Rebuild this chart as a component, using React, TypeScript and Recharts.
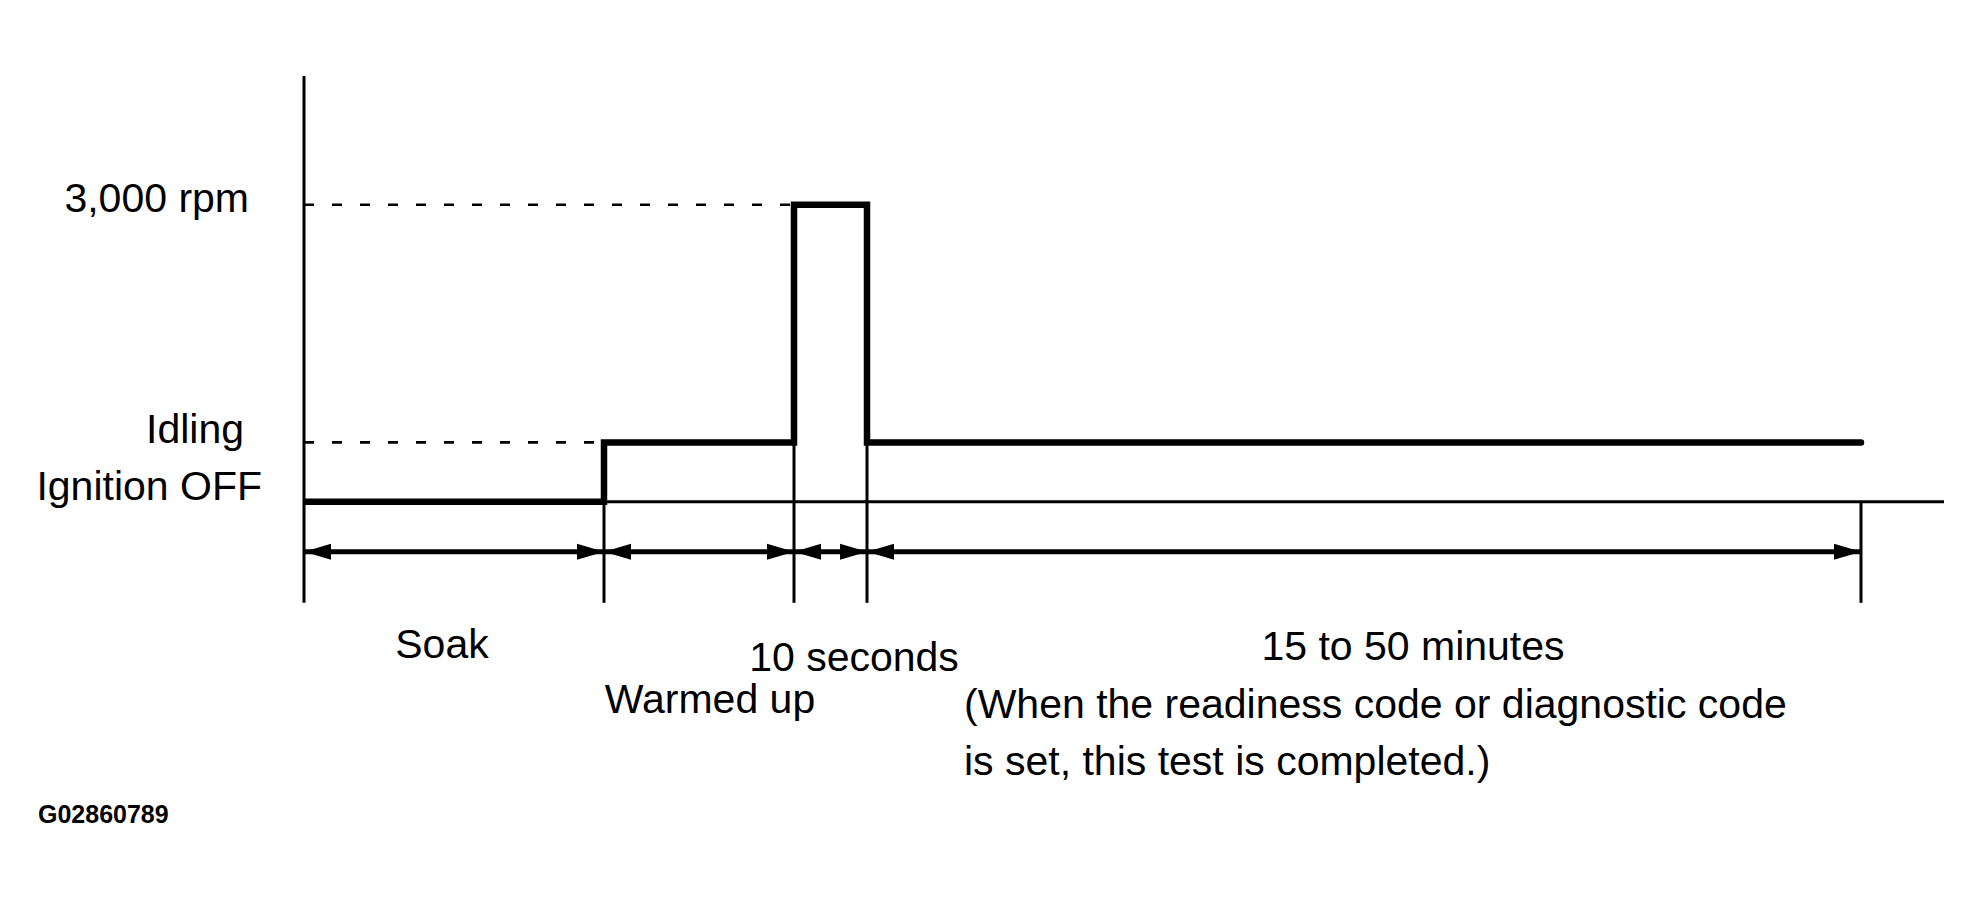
import React from 'react';
import {
  ComposedChart,
  Line,
  Scatter,
  XAxis,
  YAxis,
  ReferenceLine,
} from 'recharts';

// ---- data ----
// phase boundaries (schematic time units)
const phaseTimes = [0, 30, 49, 56.3, 155.7];
// step profile of engine speed
const stepTimes = [0, 30, 30, 49, 49, 56.3, 56.3, 155.7];
const stepRpm = [0, 0, 600, 600, 3000, 3000, 600, 600];
// y levels and their labels
const levelValues = [0, 600, 3000];
const levelLabels = ['Ignition OFF', 'Idling', '3,000 rpm'];
// phase annotation texts
const phaseTexts = [
  'Soak',
  'Warmed up',
  '10 seconds',
  '15 to 50 minutes',
  '(When the readiness code or diagnostic code',
  'is set, this test is completed.)',
];
const phaseTextX = [13.8, 40.6, 55, 110.9, 66, 66];
const phaseTextY = [-1578, -2133, -1709, -1598, -2183, -2759];
const phaseTextAnchor = ['middle', 'middle', 'middle', 'middle', 'start', 'start'];
const figureId = 'G02860789';

// ---- derived tables ----
const stepData = stepTimes.map((t, i) => ({ x: t, y: stepRpm[i] }));
const arrowRowY = -505;
const lineBottomY = -1020;
const arrowData: { x: number; y: number; dir: string }[] = [];
phaseTimes.forEach((t, i) => {
  if (i > 0) arrowData.push({ x: t, y: arrowRowY, dir: 'right' });
  if (i < phaseTimes.length - 1) arrowData.push({ x: t, y: arrowRowY, dir: 'left' });
});
const textData = phaseTexts.map((s, i) => ({
  x: phaseTextX[i],
  y: phaseTextY[i],
  text: s,
  anchor: phaseTextAnchor[i],
}));

const FONT = '"Liberation Sans", Arial, Helvetica, sans-serif';
const tickOffsets: Record<number, { dx: number; dy: number }> = {
  0: { dx: -42, dy: -2 },
  600: { dx: -60, dy: 1 },
  3000: { dx: -55, dy: 7 },
};

const LevelTick = (props: any) => {
  const { x, y, payload } = props;
  const v = payload.value as number;
  const idx = levelValues.indexOf(v);
  const off = tickOffsets[v] || { dx: 0, dy: 0 };
  return (
    <text
      x={x + off.dx}
      y={y + off.dy}
      textAnchor="end"
      fontFamily={FONT}
      fontSize={41}
      fill="#000"
    >
      {idx >= 0 ? levelLabels[idx] : ''}
    </text>
  );
};

const ArrowHead = (props: any) => {
  const { cx, cy, payload } = props;
  if (cx == null || cy == null) return null;
  const L = 27;
  const H = 8;
  const pts =
    payload.dir === 'right'
      ? `${cx},${cy} ${cx - L},${cy - H} ${cx - L},${cy + H}`
      : `${cx},${cy} ${cx + L},${cy - H} ${cx + L},${cy + H}`;
  return <polygon points={pts} fill="#000" />;
};

const NoteText = (props: any) => {
  const { cx, cy, payload } = props;
  if (cx == null || cy == null) return null;
  return (
    <text
      x={cx}
      y={cy}
      textAnchor={payload.anchor}
      fontFamily={FONT}
      fontSize={41}
      fill="#000"
    >
      {payload.text}
    </text>
  );
};

const W = 1966;
const H = 880;

export default function App() {
  const [t0, t1, t2, t3, t4] = phaseTimes;
  return (
    <div style={{ position: 'relative', width: W, height: H, background: '#fff' }}>
      <ComposedChart
        width={W}
        height={H}
        margin={{ top: 68, right: 30, bottom: 0, left: 0 }}
      >
        <XAxis
          type="number"
          dataKey="x"
          domain={[0, 164]}
          allowDataOverflow
          hide
        />
        <YAxis
          type="number"
          domain={[-3900, 4300]}
          allowDataOverflow
          ticks={levelValues}
          interval={0}
          axisLine={false}
          tickLine={false}
          tickSize={0}
          tickMargin={0}
          width={296}
          tick={<LevelTick />}
        />
        {/* vertical axis */}
        <ReferenceLine
          segment={[{ x: 0, y: lineBottomY }, { x: 0, y: 4300 }]}
          stroke="#000"
          strokeWidth={3}
          ifOverflow="visible"
        />
        {/* ignition-off baseline */}
        <ReferenceLine
          segment={[{ x: 0, y: 0 }, { x: 164, y: 0 }]}
          stroke="#000"
          strokeWidth={3}
          ifOverflow="visible"
        />
        {/* dashed level guides */}
        <ReferenceLine
          segment={[{ x: 0, y: 3000 }, { x: t2, y: 3000 }]}
          stroke="#000"
          strokeWidth={2.7}
          strokeDasharray="10 18"
          ifOverflow="visible"
        />
        <ReferenceLine
          segment={[{ x: 0, y: 600 }, { x: t1, y: 600 }]}
          stroke="#000"
          strokeWidth={2.7}
          strokeDasharray="10 18"
          ifOverflow="visible"
        />
        {/* phase boundary lines */}
        <ReferenceLine
          segment={[{ x: t1, y: 0 }, { x: t1, y: lineBottomY }]}
          stroke="#000"
          strokeWidth={3}
          ifOverflow="visible"
        />
        <ReferenceLine
          segment={[{ x: t2, y: 600 }, { x: t2, y: lineBottomY }]}
          stroke="#000"
          strokeWidth={3}
          ifOverflow="visible"
        />
        <ReferenceLine
          segment={[{ x: t3, y: 600 }, { x: t3, y: lineBottomY }]}
          stroke="#000"
          strokeWidth={3}
          ifOverflow="visible"
        />
        <ReferenceLine
          segment={[{ x: t4, y: 0 }, { x: t4, y: lineBottomY }]}
          stroke="#000"
          strokeWidth={3}
          ifOverflow="visible"
        />
        {/* duration arrow line */}
        <ReferenceLine
          segment={[{ x: t0, y: arrowRowY }, { x: t4, y: arrowRowY }]}
          stroke="#000"
          strokeWidth={5}
          ifOverflow="visible"
        />
        <Line
          data={stepData}
          dataKey="y"
          type="linear"
          stroke="#000"
          strokeWidth={6.5}
          strokeLinejoin="miter"
          strokeLinecap="round"
          dot={false}
          activeDot={false}
          isAnimationActive={false}
        />
        <Scatter
          data={arrowData}
          dataKey="y"
          shape={<ArrowHead />}
          isAnimationActive={false}
        />
        <Scatter
          data={textData}
          dataKey="y"
          shape={<NoteText />}
          isAnimationActive={false}
        />
      </ComposedChart>
      <svg
        width={W}
        height={H}
        style={{ position: 'absolute', left: 0, top: 0, pointerEvents: 'none' }}
      >
        <text x={30} y={815} fontFamily={FONT} fontSize={25} fontWeight="bold" fill="#000">
          {figureId}
        </text>
      </svg>
    </div>
  );
}
